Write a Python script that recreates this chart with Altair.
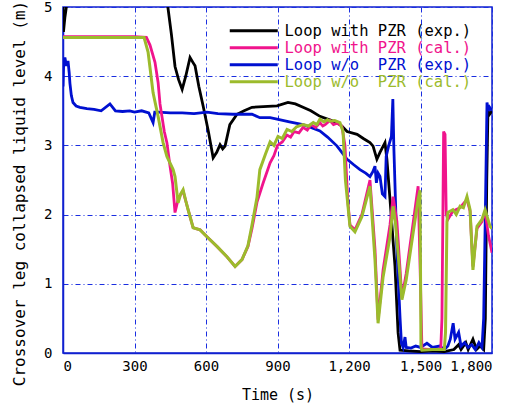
import altair as alt
import pandas as pd

FONT = "DejaVu Sans Mono"
BLUE_AX = "#1020d0"

S1 = "Loop with PZR (exp.)"
S2 = "Loop with PZR (cal.)"
S3 = "Loop w/o\u00a0 PZR (exp.)"
S4 = "Loop w/o\u00a0 PZR (cal.)"
series_names = [S1, S2, S3, S4]
series_colors = ["#000000", "#f0148c", "#0010d0", "#9cbb2c"]

# Loop with PZR (exp.)
t_exp_pzr = [0, 2, 5, 8, 12, 16, 30, 200, 430, 440, 455, 470, 485, 500, 515, 533, 545, 554, 570,
             588, 610, 630, 645, 659, 670, 680, 700, 730, 760, 793, 840, 898, 944, 975, 1007,
             1040, 1078, 1110, 1150, 1170, 1192, 1234, 1260, 1288, 1301, 1317, 1330, 1351, 1359,
             1372, 1393, 1406, 1414, 1450, 1500, 1550, 1600, 1640, 1660, 1670, 1690, 1700, 1720,
             1735, 1750, 1765, 1772, 1778, 1783, 1790, 1800]
v_exp_pzr = [5.0, 4.64, 4.75, 4.85, 4.95, 5.05, 5.6, 5.8, 5.6, 5.0, 4.6, 4.14, 3.95, 3.81, 4.0, 4.27,
             4.2, 4.15, 3.85, 3.57, 3.2, 2.82, 2.9, 3.01, 2.95, 2.99, 3.30, 3.45, 3.5, 3.55, 3.56,
             3.57, 3.62, 3.6, 3.55, 3.5, 3.42, 3.38, 3.33, 3.28, 3.20, 3.16, 3.1, 3.04, 2.99, 2.8,
             2.9, 3.04, 2.8, 2.22, 1.25, 0.29, 0.04, 0.03, 0.02, 0.03, 0.02, 0.05, 0.12, 0.05,
             0.15, 0.05, 0.2, 0.05, 0.1, 0.05, 0.5, 2.5, 3.5, 3.45, 3.5]

# Loop with PZR (cal.)
t_cal_pzr = [0, 100, 200, 300, 350, 365, 386, 399, 407, 415, 425, 436, 449, 460, 470, 483, 495, 504,
             515, 525, 546, 575, 604, 646, 688, 722, 751, 776, 793, 814, 839, 869, 885, 900, 920,
             940, 955, 970, 990, 1007, 1025, 1040, 1060, 1078, 1090, 1100, 1120, 1135, 1150, 1170,
             1183, 1195, 1204, 1225, 1254, 1288, 1309, 1322, 1343, 1372, 1385, 1401, 1422, 1440,
             1470, 1490, 1500, 1506, 1550, 1585, 1590, 1597, 1603, 1608, 1615, 1636, 1666, 1695,
             1708, 1720, 1737, 1758, 1771, 1785, 1800]
v_cal_pzr = [4.57, 4.57, 4.57, 4.57, 4.56, 4.45, 4.2, 3.91, 3.6, 3.42, 3.2, 3.04, 2.7, 2.45, 2.03,
             2.22, 2.3, 2.34, 2.2, 2.07, 1.81, 1.78, 1.68, 1.54, 1.39, 1.25, 1.35, 1.54, 1.8, 2.18,
             2.45, 2.75, 2.85, 3.0, 3.05, 3.15, 3.12, 3.2, 3.18, 3.26, 3.22, 3.3, 3.26, 3.33, 3.28,
             3.3, 3.36, 3.3, 3.32, 3.28, 3.0, 2.2, 1.85, 1.78, 2.0, 2.5, 1.5, 0.48, 1.2, 1.85, 2.26,
             1.9, 0.8, 1.15, 1.9, 2.41, 1.0, 0.06, 0.05, 0.06, 0.5, 3.2, 3.16, 2.0, 1.93, 2.05, 2.1,
             2.22, 2.05, 1.25, 1.8, 1.9, 2.05, 1.7, 1.45]

# Loop w/o PZR (exp.)
t_exp_wo = [0, 3, 8, 14, 21, 26, 29, 35, 42, 55, 71, 100, 130, 160, 197, 220, 250, 280, 300, 330,
            360, 378, 385, 400, 450, 500, 550, 604, 650, 713, 793, 826, 869, 898, 950, 1007, 1040,
            1078, 1110, 1150, 1170, 1192, 1220, 1246, 1270, 1288, 1300, 1309, 1315, 1322, 1330,
            1340, 1351, 1356, 1366, 1378, 1384, 1388, 1395, 1401, 1414, 1420, 1427, 1435, 1440,
            1460, 1480, 1500, 1527, 1550, 1580, 1600, 1615, 1625, 1637, 1645, 1660, 1670, 1685,
            1700, 1715, 1730, 1745, 1758, 1765, 1772, 1779, 1785, 1790, 1800]
v_exp_wo = [3.85, 4.2, 4.27, 4.15, 4.22, 4.05, 3.9, 3.72, 3.62, 3.57, 3.55, 3.53, 3.52, 3.5, 3.6,
            3.5, 3.49, 3.5, 3.48, 3.5, 3.47, 3.33, 3.48, 3.48, 3.47, 3.47, 3.46, 3.48, 3.46, 3.45,
            3.45, 3.40, 3.40, 3.38, 3.34, 3.30, 3.26, 3.21, 3.12, 2.99, 2.9, 2.80, 2.72, 2.65, 2.6,
            2.55, 2.62, 2.7, 2.46, 2.6, 2.55, 2.3, 2.26, 2.84, 2.99, 3.13, 3.67, 2.99, 2.2, 1.49,
            0.52, 0.14, 0.08, 0.23, 0.08, 0.07, 0.1, 0.08, 0.14, 0.08, 0.1, 0.05, 0.1, 0.2, 0.43,
            0.2, 0.3, 0.1, 0.15, 0.08, 0.12, 0.05, 0.15, 0.08, 0.5, 2.0, 3.62, 3.5, 3.55, 3.5]

# Loop w/o PZR (cal.)
t_cal_wo = [0, 100, 200, 300, 340, 357, 378, 399, 420, 436, 462, 470, 483, 494, 504, 515, 525, 546,
            575, 604, 646, 688, 722, 751, 776, 793, 814, 826, 850, 869, 885, 902, 920, 940, 960,
            980, 1007, 1030, 1050, 1065, 1078, 1095, 1110, 1120, 1140, 1162, 1175, 1185, 1204,
            1225, 1254, 1288, 1309, 1322, 1343, 1372, 1385, 1395, 1422, 1440, 1490, 1498, 1502,
            1506, 1550, 1600, 1605, 1611, 1615, 1636, 1650, 1666, 1680, 1695, 1708, 1720, 1737,
            1758, 1771, 1792, 1800]
v_cal_wo = [4.56, 4.56, 4.56, 4.56, 4.56, 4.35, 3.76, 3.42, 3.04, 2.84, 2.65, 2.55, 2.17, 2.3, 2.36,
            2.2, 2.07, 1.81, 1.78, 1.68, 1.54, 1.39, 1.25, 1.35, 1.55, 1.85, 2.25, 2.65, 2.88, 3.05,
            3.0, 3.13, 3.1, 3.23, 3.2, 3.27, 3.3, 3.28, 3.33, 3.3, 3.38, 3.34, 3.37, 3.35, 3.36,
            3.33, 3.2, 2.5, 1.83, 1.75, 1.97, 2.41, 1.35, 0.43, 1.1, 1.68, 2.12, 1.88, 0.77, 1.06,
            2.22, 2.35, 0.09, 0.04, 0.05, 0.05, 0.3, 1.9, 2.03, 2.07, 2.0, 2.12, 2.1, 2.26, 2.07,
            1.2, 1.83, 1.93, 2.07, 1.83, 1.8]

frames = []
for name, ts, vs in [(S1, t_exp_pzr, v_exp_pzr), (S2, t_cal_pzr, v_cal_pzr),
                     (S3, t_exp_wo, v_exp_wo), (S4, t_cal_wo, v_cal_wo)]:
    frames.append(pd.DataFrame({"t": ts, "v": vs, "series": name}))

color_scale = alt.Scale(domain=series_names, range=series_colors)
label_color_expr = (
    f"datum.value == '{S1}' ? '{series_colors[0]}' : "
    f"datum.value == '{S2}' ? '{series_colors[1]}' : "
    f"datum.value == '{S3}' ? '{series_colors[2]}' : '{series_colors[3]}'"
)

x_enc = alt.X("t:Q", scale=alt.Scale(domain=[0, 1800], nice=False),
              axis=alt.Axis(values=list(range(0, 1801, 300)), format=",d", title="Time (s)",
                            titleBaseline="alphabetic", titleY=46, labelPadding=6))
y_enc = alt.Y("v:Q", scale=alt.Scale(domain=[0, 5], nice=False),
              axis=alt.Axis(values=[0, 1, 2, 3, 4, 5], title="Crossover leg collapsed liquid level (m)",
                            titleAngle=270, titleX=-44, titleY=186, titleAlign="center",
                            titleBaseline="middle", titleFontSize=16, labelPadding=11))

def layer(i, width):
    return alt.Chart(frames[i]).mark_line(strokeWidth=width, clip=True).encode(
        x=x_enc, y=y_enc,
        color=alt.Color("series:N", scale=color_scale, sort=series_names,
                        legend=alt.Legend(title=None, orient="none", legendX=183, legendY=16,
                                          symbolType="M-4,0H4", symbolSize=144,
                                          symbolStrokeWidth=3, labelFontSize=15.5, rowPadding=0,
                                          labelOffset=23, padding=0,
                                          labelColor={"expr": label_color_expr})),
        order=alt.Order("t:Q"),
    )

chart = alt.layer(layer(0, 2.8), layer(2, 2.8), layer(1, 2.8), layer(3, 3.0)).properties(
    width=429, height=346,
    autosize=alt.AutoSizeParams(type="none"),
    padding={"left": 63, "top": 7, "right": 20, "bottom": 54},
).configure_view(stroke=BLUE_AX, strokeWidth=1.5).configure_axis(
    labelFont=FONT, titleFont=FONT, labelFontSize=14, titleFontSize=15,
    labelColor="#000000", titleColor="#000000", titleFontWeight="normal",
    domainColor=BLUE_AX, domainWidth=1.5, ticks=False,
    grid=True, gridColor="#1a2ee0", gridDash=[5, 3, 1, 3], gridWidth=1, gridOpacity=1,
).configure_legend(labelFont=FONT, labelLimit=0)

chart.save("out.html", embed_options={"renderer": "svg", "actions": False})
